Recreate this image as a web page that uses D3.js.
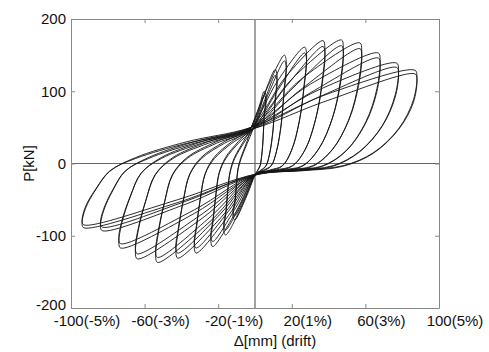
<!DOCTYPE html>
<html>
  <head>
    <meta charset="utf-8">
    <title>P - drift hysteresis</title>
    <style>
      body { margin: 0; background: #fff; }
      text { font-family: "Liberation Sans", Arial, sans-serif; fill: #111; }
    </style>
  </head>
  <body>
    <script src="https://d3js.org/d3.v7.min.js"></script>
    <svg id="chart" width="489" height="352"></svg>
    <script>
      width = 489
      height = 352
      margin = { top: 19, right: 50, bottom: 44, left: 71 }

      // tick values and labels
      var xTicks = [-100, -60, -20, 20, 60, 100]
      var xTickLabels = ['-100(-5%)', '-60(-3%)', '-20(-1%)', '20(1%)', '60(3%)', '100(5%)']
      var yTicks = [200, 100, 0, -100, -200]
      var yTickLabels = ['200', '100', '0', '-100', '-200']

      // loops: [displacement mm, load kN]
      // each loop: upper pinch -> + peak -> unloading -> lower pinch -> - peak -> unloading
      var firstCycles = [
        [[-2,50],[2.3,79],[5,100],[6,94],[5,68],[4.5,38],[3.7,12],[2.8,-3],[1.5,-9],[0,-16],[-5,-48],[-11,-78],[-12,-73],[-10.9,-55],[-10.2,-31],[-9.4,-9],[-7.7,8],[-4.4,30]],
        [[-2,50],[5,96],[11,130],[12,122],[10.9,88],[9.9,49],[8.1,16],[6,-3],[3.3,-9],[0,-16],[-7.2,-59],[-16,-99],[-17,-93],[-15.8,-69],[-14.9,-40],[-13.6,-12],[-11.2,8],[-6.4,30]],
        [[-2,50],[7.2,108],[16,150],[17,141],[15.8,102],[14.4,57],[11.8,18],[8.8,-3],[4.8,-9],[0,-16],[-10.4,-67],[-23,-115],[-24,-108],[-22.8,-80],[-21.4,-46],[-19.6,-14],[-16.1,8],[-9.2,30]],
        [[-2,50],[12.2,114],[27,161],[28,151],[26.7,109],[24.3,61],[20,19],[14.9,-3],[8.1,-9],[0,-16],[-14.4,-72],[-32,-124],[-33,-117],[-31.7,-87],[-29.8,-50],[-27.2,-15],[-22.4,8],[-12.8,30]],
        [[-2,50],[16.7,120],[37,170],[38,160],[36.6,116],[33.3,65],[27.4,20],[20.4,-3],[11.1,-9],[0,-16],[-18.9,-76],[-42,-131],[-43,-123],[-41.6,-92],[-39,-52],[-35.7,-16],[-29.4,8],[-16.8,30]],
        [[-2,50],[21.2,120],[47,171],[48,161],[46.5,116],[42.3,65],[34.8,21],[25.9,-3],[14.1,-9],[0,-16],[-23.9,-79],[-53,-137],[-54,-129],[-52.5,-96],[-49.3,-55],[-45,-16],[-37.1,8],[-21.2,30]],
        [[-2,50],[25.7,118],[57,167],[58,157],[56.4,114],[51.3,63],[42.2,20],[31.4,-3],[17.1,-9],[0,-16],[-28.8,-76],[-64,-132],[-65,-124],[-63.4,-92],[-59.5,-53],[-54.4,-16],[-44.8,8],[-25.6,30]],
        [[-2,50],[30.2,110],[67,153],[68,144],[66.3,104],[60.3,58],[49.6,18],[36.9,-3],[20.1,-9],[0,-16],[-32.9,-69],[-73,-117],[-74,-110],[-72.3,-82],[-67.9,-47],[-62,-14],[-51.1,8],[-29.2,30]],
        [[-2,50],[34.7,102],[77,139],[78,131],[76.2,95],[69.3,53],[57,17],[42.4,-3],[23.1,-9],[0,-16],[-37.4,-56],[-83,-93],[-84,-87],[-82.2,-65],[-77.2,-37],[-70.6,-11],[-58.1,8],[-33.2,30]],
        [[-2,50],[39.2,96],[87,129],[88,121],[86.1,88],[78.3,49],[64.4,15],[47.9,-3],[26.1,-9],[0,-16],[-41.9,-54],[-93,-89],[-94,-84],[-92.1,-62],[-86.5,-36],[-79,-11],[-65.1,8],[-37.2,30]]
      ]

      var secondCycles = [
        [[-1,48],[2.3,72],[5,94],[6,88],[5,64],[4.4,35],[3.6,10],[2.6,-4],[1.4,-10],[0,-15],[-5,-44],[-11,-72],[-12,-67],[-10.8,-50],[-10,-28],[-9.2,-8],[-7.5,7],[-4.2,28]],
        [[-1,48],[5,86],[11,122],[12,114],[10.8,82],[9.8,46],[8,14],[5.8,-4],[3.2,-10],[0,-15],[-7.2,-53],[-16,-92],[-17,-86],[-15.7,-64],[-14.8,-37],[-13.4,-11],[-11,7],[-6.2,28]],
        [[-1,48],[7.2,96],[16,142],[17,133],[15.7,96],[14.2,54],[11.6,16],[8.6,-4],[4.6,-10],[0,-15],[-10.4,-61],[-23,-108],[-24,-101],[-22.7,-75],[-21.2,-43],[-19.4,-13],[-15.8,7],[-9,28]],
        [[-1,48],[12.2,101],[27,153],[28,144],[26.6,104],[24,58],[19.8,18],[14.6,-4],[8,-10],[0,-15],[-14.4,-66],[-32,-117],[-33,-110],[-31.6,-82],[-29.6,-47],[-27,-14],[-22,7],[-12.6,28]],
        [[-1,48],[16.7,106],[37,162],[38,152],[36.5,110],[33,62],[27.2,19],[20,-4],[11,-10],[0,-15],[-18.9,-70],[-42,-124],[-43,-117],[-41.5,-87],[-38.8,-49],[-35.4,-15],[-29,7],[-16.6,28]],
        [[-1,48],[21.2,106],[47,163],[48,153],[46.4,110],[42,62],[34.6,20],[25.6,-4],[14,-10],[0,-15],[-23.9,-73],[-53,-130],[-54,-122],[-52.4,-91],[-49,-52],[-44.8,-16],[-36.8,7],[-21,28]],
        [[-1,48],[25.7,104],[57,159],[58,150],[56.3,108],[51,60],[42,19],[31.2,-4],[17,-10],[0,-15],[-28.8,-70],[-64,-125],[-65,-118],[-63.3,-88],[-59.2,-50],[-54,-15],[-44.5,7],[-25.4,28]],
        [[-1,48],[30.2,98],[67,146],[68,137],[66.2,99],[60,55],[49.4,17],[36.6,-4],[20,-10],[0,-15],[-32.9,-64],[-73,-111],[-74,-104],[-72.2,-78],[-67.6,-44],[-61.8,-13],[-50.8,7],[-29,28]],
        [[-1,48],[34.7,92],[77,133],[78,125],[76.1,91],[69,51],[56.8,16],[42.2,-4],[23,-10],[0,-15],[-37.4,-52],[-83,-88],[-84,-82],[-82.1,-62],[-77,-35],[-70.4,-10],[-57.8,7],[-33,28]],
        [[-1,48],[39.2,87],[87,124],[88,117],[86,84],[78,47],[64.2,14],[47.6,-4],[26,-10],[0,-15],[-41.9,-50],[-93,-85],[-94,-80],[-92,-59],[-86.2,-34],[-78.8,-10],[-64.8,7],[-37,28]]
      ]

      const xScale = d3.scaleLinear([-100, 100], [margin.left, width - margin.right])
      const yScale = d3.scaleLinear([-200, 200], [height - margin.bottom, margin.top])

      const svg = d3.select('#chart')

      const line = d3.line()
        .x(d => xScale(d[0]))
        .y(d => yScale(d[1]))
        .curve(d3.curveCatmullRomClosed.alpha(0.5))

      // zero lines
      svg.append('line')
        .attr('x1', xScale(-100)).attr('x2', xScale(100))
        .attr('y1', yScale(0)).attr('y2', yScale(0))
        .style('stroke', '#666').style('stroke-width', 1.2)
      svg.append('line')
        .attr('x1', xScale(0)).attr('x2', xScale(0))
        .attr('y1', yScale(-200)).attr('y2', yScale(200))
        .style('stroke', '#666').style('stroke-width', 1.2)

      // hysteresis loops
      svg.append('g')
        .selectAll('path')
        .data(firstCycles.concat(secondCycles))
        .join('path')
          .attr('d', line)
          .style('fill', 'none')
          .style('stroke', '#141414')
          .style('stroke-width', 0.9)

      // box axes, ticks pointing inwards (matlab style)
      const bottomAxis = d3.axisBottom(xScale).tickValues(xTicks).tickSizeInner(-4).tickSizeOuter(0).tickFormat('')
      const topAxis = d3.axisTop(xScale).tickValues(xTicks).tickSizeInner(-4).tickSizeOuter(0).tickFormat('')
      const leftAxis = d3.axisLeft(yScale).tickValues(yTicks).tickSizeInner(-4).tickSizeOuter(0).tickFormat('')
      const rightAxis = d3.axisRight(yScale).tickValues(yTicks).tickSizeInner(-4).tickSizeOuter(0).tickFormat('')

      svg.append('g').attr('transform', `translate(0,${height - margin.bottom})`).call(bottomAxis)
      svg.append('g').attr('transform', `translate(0,${margin.top})`).call(topAxis)
      svg.append('g').attr('transform', `translate(${margin.left},0)`).call(leftAxis)
      svg.append('g').attr('transform', `translate(${width - margin.right},0)`).call(rightAxis)
      svg.selectAll('.domain, .tick line').style('stroke', '#888')

      // tick labels
      svg.selectAll('text.xlab')
        .data(xTicks)
        .join('text')
          .attr('class', 'xlab')
          .attr('x', d => xScale(d) + 16)
          .attr('y', height - margin.bottom + 18)
          .attr('text-anchor', 'middle')
          .style('font-size', '15px')
          .text((d, i) => xTickLabels[i])

      // -200 sits a bit high so it just touches the x labels, as in the source
      svg.selectAll('text.ylab')
        .data(yTicks)
        .join('text')
          .attr('class', 'ylab')
          .attr('x', margin.left - 5)
          .attr('y', d => yScale(d) - (d === -200 ? 3 : 0))
          .attr('dy', '0.35em')
          .attr('text-anchor', 'end')
          .style('font-size', '15px')
          .text((d, i) => yTickLabels[i])

      // axis titles
      svg.append('text')
        .attr('x', xScale(0) + 20)
        .attr('y', height - 6)
        .attr('text-anchor', 'middle')
        .style('font-size', '15px')
        .text('Δ[mm] (drift)')

      svg.append('text')
        .attr('transform', `translate(34,${yScale(0)}) rotate(-90)`)
        .attr('text-anchor', 'middle')
        .style('font-size', '15px')
        .text('P[kN]')
    </script>
  </body>
</html>
